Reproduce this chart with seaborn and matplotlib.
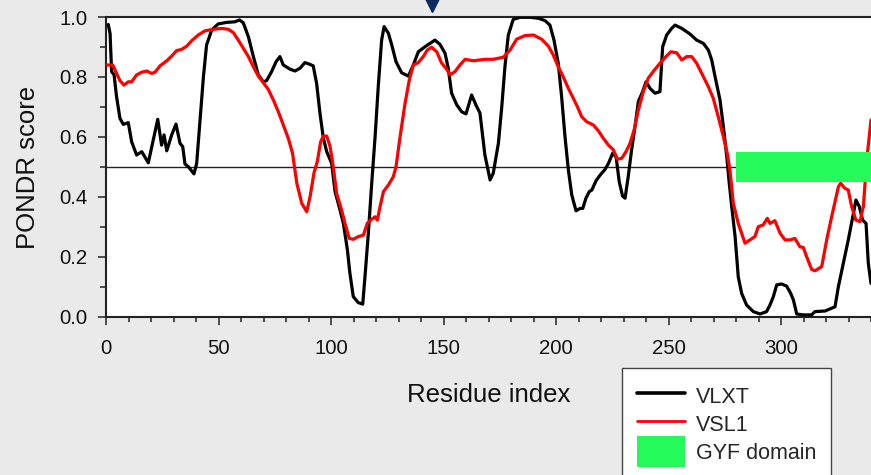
import matplotlib
matplotlib.use("Agg")
import matplotlib.pyplot as plt
from matplotlib.lines import Line2D
from matplotlib.patches import Patch, Rectangle
from matplotlib.legend_handler import HandlerPatch
from matplotlib.ticker import MultipleLocator
import seaborn as sns

# ---- data ----
vlxt_x = [1, 1.8, 2.5, 3.6, 4.7, 6.2, 7.7, 9.9, 11.4, 13.6, 15.9, 18.8, 21, 23, 24.7, 25.8, 27, 29.2,
          31.1, 32.9, 34.1, 35.1, 36.6, 39.1, 40.3, 41.8, 43.3, 44.7, 47, 49.9, 53.6, 57.3, 59.3, 61,
          63.3, 65.5, 67.7, 69.9, 71.4, 73.6, 75.6, 77.3, 78.8, 81.8, 84, 86.2, 88.4, 90.7, 92.1, 93.6,
          95.1, 96.6, 98.1, 100.3, 101.8, 104, 105.5, 107.3, 108.4, 109.9, 112.1, 114.1, 115.1, 116.6,
          118.1, 119.6, 121, 122.5, 123.6, 125.5, 127, 128.9, 131.4, 134.4, 136.6, 138.8, 141.8, 144,
          146.2, 148.4, 150.7, 152.1, 153.6, 155.9, 158.1, 160, 162.5, 164.4, 166.2, 168.4, 170.7,
          172.1, 174.4, 175.9, 177.3, 178.8, 181, 184, 188.4, 192.1, 195.1, 197.3, 199.1, 201, 202.5,
          204, 205.5, 207, 208.9, 210.7, 211.9, 213.3, 214.8, 215.9, 217.8, 219.6, 221.8, 223.3, 225.2,
          226.7, 228.1, 229.6, 230.7, 232.1, 233.6, 235.1, 236.6, 238.5, 240, 241.8, 244, 246.2, 247.4,
          249.2, 251.4, 252.9, 255.9, 259.6, 262.5, 265.5, 267.7, 269.2, 270.7, 272.9, 274.4, 275.9,
          277, 278.1, 279.6, 281, 282.5, 284.7, 287.7, 290.7, 293.6, 295.1, 296.6, 298.1, 300.3, 302.5,
          304.3, 305.5, 307, 310, 313.6, 315.1, 319.6, 322.5, 324, 325.5, 327.7, 329.9, 331.9, 333.3,
          334.8, 336.3, 337.8, 338.8, 340]
vlxt_y = [0.975, 0.946, 0.818, 0.807, 0.734, 0.662, 0.642, 0.648, 0.584, 0.54, 0.551, 0.514, 0.59, 0.659,
          0.573, 0.607, 0.554, 0.607, 0.643, 0.579, 0.568, 0.51, 0.501, 0.477, 0.512, 0.657, 0.801,
          0.907, 0.957, 0.977, 0.982, 0.984, 0.99, 0.981, 0.934, 0.868, 0.807, 0.784, 0.788, 0.818,
          0.851, 0.868, 0.84, 0.826, 0.82, 0.829, 0.848, 0.842, 0.837, 0.779, 0.679, 0.596, 0.551,
          0.512, 0.418, 0.357, 0.312, 0.223, 0.146, 0.068, 0.048, 0.043, 0.134, 0.279, 0.446, 0.601,
          0.768, 0.923, 0.968, 0.946, 0.907, 0.851, 0.814, 0.803, 0.84, 0.884, 0.901, 0.912, 0.923,
          0.909, 0.879, 0.829, 0.746, 0.707, 0.684, 0.677, 0.74, 0.707, 0.68, 0.54, 0.457, 0.479, 0.579,
          0.701, 0.834, 0.94, 0.992, 0.999, 0.999, 0.996, 0.988, 0.973, 0.923, 0.846, 0.734, 0.601,
          0.49, 0.407, 0.354, 0.362, 0.362, 0.396, 0.418, 0.423, 0.454, 0.473, 0.492, 0.512, 0.546,
          0.534, 0.451, 0.403, 0.396, 0.468, 0.557, 0.634, 0.718, 0.751, 0.784, 0.762, 0.746, 0.751,
          0.901, 0.94, 0.962, 0.973, 0.962, 0.943, 0.923, 0.912, 0.89, 0.857, 0.801, 0.723, 0.634,
          0.534, 0.446, 0.368, 0.268, 0.134, 0.079, 0.04, 0.018, 0.01, 0.018, 0.04, 0.068, 0.107, 0.11,
          0.103, 0.079, 0.057, 0.01, 0.007, 0.007, 0.018, 0.02, 0.029, 0.034, 0.101, 0.179, 0.257,
          0.334, 0.39, 0.368, 0.323, 0.312, 0.179, 0.112]

vsl1_x = [0.5, 3, 4.7, 6.2, 8, 9.9, 11.4, 13.6, 15.9, 18.1, 20.3, 21.8, 24, 27, 29.2, 31.4, 33.6, 35.9,
          38.1, 41, 44, 47.7, 51.4, 54.4, 56.6, 58.8, 61, 63.3, 65.5, 67.7, 69.9, 72.1, 74.4, 76.6,
          78.8, 81, 82.9, 84.8, 87, 89.2, 90.7, 92.4, 93.9, 95.4, 96.6, 98.1, 99.6, 101, 102.5, 104.7,
          106.2, 108.1, 109.9, 112.1, 114.4, 116.1, 118.1, 119.6, 120.6, 121.8, 123.3, 125.5, 127.7,
          128.9, 130.7, 132.9, 134.8, 136.6, 138.8, 141, 142.8, 144.7, 147, 149.2, 151.4, 152.9, 155.1,
          157.3, 159.6, 163.3, 168.4, 172.1, 176.6, 179.6, 182.5, 186.2, 190, 193.6, 196.6, 198.8, 201,
          203.2, 205.5, 207.7, 209.5, 211.4, 213.6, 216.6, 218.8, 221, 223.3, 225.5, 227.3, 229.2,
          231.1, 232.9, 234.7, 236.6, 238.8, 241, 243.2, 246.2, 248.9, 251, 253.6, 255.9, 258.1, 260.3,
          262.5, 265.5, 267.7, 269.9, 272.1, 274.4, 276.1, 277.3, 278.8, 281, 284, 286.2, 288.4, 289.9,
          292.1, 293.9, 295.1, 297.3, 299.6, 301.8, 304, 306.2, 308.4, 309.9, 311.4, 313.6, 315.1,
          318.1, 320.3, 322.5, 324, 325.5, 326.5, 328.4, 329.9, 331.4, 333.3, 335.1, 336.6, 338.1, 340]
vsl1_y = [0.84, 0.84, 0.812, 0.788, 0.773, 0.784, 0.784, 0.807, 0.816, 0.82, 0.812, 0.816, 0.837, 0.854,
          0.87, 0.888, 0.892, 0.903, 0.921, 0.94, 0.954, 0.959, 0.962, 0.959, 0.948, 0.923, 0.896,
          0.868, 0.834, 0.803, 0.781, 0.759, 0.723, 0.684, 0.64, 0.596, 0.546, 0.446, 0.379, 0.351,
          0.401, 0.479, 0.518, 0.584, 0.603, 0.603, 0.568, 0.501, 0.412, 0.357, 0.312, 0.262, 0.259,
          0.268, 0.273, 0.312, 0.326, 0.334, 0.323, 0.368, 0.418, 0.44, 0.468, 0.501, 0.601, 0.712,
          0.79, 0.84, 0.848, 0.868, 0.89, 0.899, 0.884, 0.846, 0.826, 0.807, 0.818, 0.84, 0.859, 0.854,
          0.859, 0.859, 0.866, 0.89, 0.926, 0.938, 0.94, 0.926, 0.903, 0.873, 0.834, 0.801, 0.762,
          0.729, 0.701, 0.668, 0.651, 0.64, 0.621, 0.596, 0.573, 0.557, 0.526, 0.529, 0.551, 0.579,
          0.623, 0.69, 0.751, 0.796, 0.818, 0.846, 0.868, 0.884, 0.881, 0.857, 0.868, 0.868, 0.846,
          0.801, 0.768, 0.729, 0.668, 0.601, 0.546, 0.49, 0.379, 0.312, 0.246, 0.257, 0.268, 0.301,
          0.307, 0.329, 0.312, 0.321, 0.279, 0.257, 0.257, 0.262, 0.234, 0.232, 0.201, 0.159, 0.154,
          0.168, 0.257, 0.334, 0.384, 0.434, 0.446, 0.429, 0.423, 0.368, 0.323, 0.318, 0.368, 0.523,
          0.657]

threshold = 0.5
gyf_start, gyf_end = 280, 360
gyf_low, gyf_high = 0.45, 0.55
marker_residue = 145
x_ticks = [0, 50, 100, 150, 200, 250, 300]
y_ticks = [0.0, 0.2, 0.4, 0.6, 0.8, 1.0]
legend_labels = ["VLXT", "VSL1", "GYF domain"]

# ---- style ----
sns.set_style("white")
plt.rcParams["font.family"] = ["Liberation Sans", "DejaVu Sans"]

BG = "#eaeaea"
GREEN = "#24fa5a"
fig = plt.figure(figsize=(8.71, 4.75), dpi=100, facecolor=BG)
ax = fig.add_axes([106 / 871, 158 / 475, 765 / 871, 300 / 475])
ax.set_facecolor("white")

ax.axhline(threshold, color="#222222", lw=1.0, zorder=1)
sns.lineplot(x=vlxt_x, y=vlxt_y, color="black", lw=2.3, ax=ax, estimator=None, sort=False, zorder=3)
sns.lineplot(x=vsl1_x, y=vsl1_y, color="#ff0000", lw=2.3, ax=ax, estimator=None, sort=False, zorder=4)
ax.add_patch(Rectangle((gyf_start, gyf_low), gyf_end - gyf_start, gyf_high - gyf_low,
                       facecolor=GREEN, edgecolor="none", zorder=5))

ax.set_xlim(0, 340)
ax.set_ylim(0, 1.0)
ax.set_xticks(x_ticks)
ax.set_yticks(y_ticks)
ax.set_yticklabels([f"{v:.1f}" for v in y_ticks])
ax.xaxis.set_minor_locator(MultipleLocator(10))
ax.yaxis.set_minor_locator(MultipleLocator(0.1))
ax.tick_params(axis="both", which="both", direction="out", color="#222222", width=1.1,
               labelsize=14.7, colors="#222222", labelcolor="#111111")
ax.tick_params(axis="y", which="major", length=6, pad=7.5, left=True)
ax.tick_params(axis="y", which="minor", length=4.5, left=True)
ax.tick_params(axis="x", which="major", length=5.5, pad=10, bottom=True)
ax.tick_params(axis="x", which="minor", length=3.5, bottom=True)

for side in ["left", "bottom", "top"]:
    ax.spines[side].set_visible(True)
    ax.spines[side].set_color("#222222")
    ax.spines[side].set_linewidth(1.5)
ax.spines["right"].set_visible(False)

ax.set_xlabel("Residue index", fontsize=18.5, color="#111111", labelpad=18)
ax.set_ylabel("PONDR score", fontsize=18.5, color="#111111", labelpad=14)

# marker triangle above the plot
ax.plot([marker_residue], [1.049], marker="v", markersize=14, color="#0d2a5e",
        clip_on=False, zorder=6, linestyle="none")


def tall_patch(legend, orig_handle, xdescent, ydescent, width, height, fontsize):
    extra = 0.1 * height
    return Rectangle((-xdescent, -ydescent - extra / 2), width, height + extra)


handles = [Line2D([0], [0], color="black", lw=2.6),
           Line2D([0], [0], color="#ff0000", lw=2.0),
           Patch(facecolor=GREEN, edgecolor="none")]
leg = fig.legend(handles, legend_labels, loc="upper left",
                 bbox_to_anchor=(622 / 871, 1 - 368 / 475), bbox_transform=fig.transFigure,
                 fontsize=15.5, frameon=True, fancybox=False, borderpad=0.68,
                 handlelength=2.23, handleheight=1.59, handletextpad=0.51, labelspacing=0.0,
                 borderaxespad=0, handler_map={Patch: HandlerPatch(patch_func=tall_patch)})
leg.get_frame().set_edgecolor("#444444")
leg.get_frame().set_linewidth(1.0)
leg.get_frame().set_facecolor("white")
leg.get_frame().set_alpha(1)

fig.savefig("out.png", dpi=100, facecolor=BG)
